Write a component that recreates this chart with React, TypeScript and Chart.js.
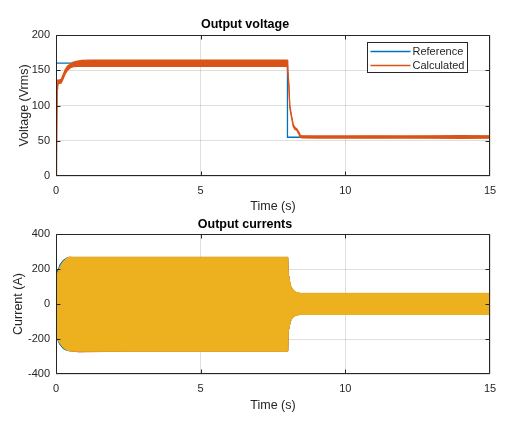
import React, { useEffect, useRef } from "react";
import { Chart, registerables } from "chart.js";

Chart.register(...registerables);

// ---------- data ----------
const timeTicks = [0, 5, 10, 15];
const voltageTicks = [0, 50, 100, 150, 200];
const currentTicks = [-400, -200, 0, 200, 400];

const refTime = [0, 8, 8, 15];
const refVoltage = [160, 160, 55, 55];

const calcTime = [0, 0.02, 0.04, 0.06, 0.1, 0.18, 0.25, 0.32, 0.4, 0.5, 0.6, 0.75, 0.9, 1.2, 2, 3, 4, 5, 6, 7, 7.99, 8.01, 8.05, 8.08, 8.14, 8.2, 8.26, 8.32, 8.4, 8.44, 8.5, 9, 10, 11, 12, 13, 14, 15];
const calcUpper = [0, 2, 128, 136, 136, 137, 144, 151, 156, 159, 161.5, 163, 164, 164.5, 164.5, 164.5, 164.5, 164.5, 164.5, 164.5, 164.5, 152, 129, 100, 86, 73, 69, 67, 62, 58, 57, 56.8, 56.8, 57, 56.8, 57, 57.2, 57];
const calcLower = [0, 0, 124, 131, 131, 132, 138, 145, 150, 153.5, 155, 155.5, 155.5, 155.5, 155.5, 155.5, 155.5, 155.5, 155.5, 155.5, 155.5, 148, 126, 97, 83, 70, 66, 65, 59, 55, 54, 53.8, 53.8, 53.6, 53.8, 53.6, 53.5, 53.8];

const curTime = [0, 0.02, 0.08, 0.14, 0.25, 0.37, 0.45, 0.6, 0.8, 1, 2, 3, 4, 5, 6, 7, 8.01, 8.03, 8.05, 8.1, 8.16, 8.22, 8.33, 8.45, 8.6, 9, 10, 11, 12, 13, 14, 15];
const phaseAUpper = [155, 178, 200, 226, 250, 263, 266, 266, 266, 266, 266, 266, 266, 266, 266, 266, 266, 158, 148, 107, 88, 74, 63, 60, 60, 60, 60, 60, 60, 60, 60, 60];
const phaseALower = [-155, -185, -214, -234, -255, -265, -267, -268, -269, -269, -269, -269, -269, -269, -269, -269, -269, -143, -137, -99, -80, -70, -62, -59, -59, -59, -59, -59, -59, -59, -59, -59];
const phaseBUpper = [150, 165, 184, 212, 241, 260, 268, 266, 266, 266, 266, 266, 266, 266, 266, 266, 266, 158, 148, 107, 88, 74, 63, 60, 60, 60, 60, 60, 60, 60, 60, 60];
const phaseBLower = [-150, -176, -205, -224, -247, -262, -267, -270, -274, -273, -271, -270, -269, -269, -269, -269, -269, -143, -137, -99, -80, -70, -62, -59, -59, -59, -59, -59, -59, -59, -59, -59];
const phaseCUpper = [155, 166, 185, 213, 242, 261, 267, 267, 267, 267, 267, 267, 267, 267, 267, 267, 267, 160, 150, 109, 90, 76, 65, 61, 61, 61, 61, 61, 61, 61, 61, 61];
const phaseCLower = [-155, -177, -206, -225, -248, -263, -267, -269, -270, -270, -270, -270, -270, -270, -270, -270, -270, -145, -139, -101, -82, -72, -63, -60, -60, -60, -60, -60, -60, -60, -60, -60];

// ---------- styling ----------
const FONT = "'Liberation Sans', Arial, Helvetica, sans-serif";
const AXIS = "#262626";
const GRID = "rgba(38,38,38,0.15)";
const BLUE = "#0072BD";
const ORANGE = "#D95319";
const YELLOW = "#EDB120";

function pts(xs: number[], ys: number[]) {
  return xs.map((x, i) => ({ x, y: ys[i] }));
}

const framePlugin = {
  id: "matlabFrame",
  afterDatasetsDraw(chart: any) {
    const { ctx, chartArea } = chart;
    const { left, right, top, bottom } = chartArea;
    const xs = chart.scales.x;
    const ys = chart.scales.y;
    const L = left + 0.5, R = right - 0.5, T = top + 0.5, B = bottom - 0.5;
    const tl = 4;
    ctx.save();
    ctx.strokeStyle = AXIS;
    ctx.lineWidth = 1;
    ctx.beginPath();
    ctx.rect(L, T, R - L, B - T);
    xs.ticks.forEach((t: any) => {
      let p = Math.round(xs.getPixelForValue(t.value)) + 0.5;
      p = Math.min(Math.max(p, L), R);
      ctx.moveTo(p, B); ctx.lineTo(p, B - tl);
      ctx.moveTo(p, T); ctx.lineTo(p, T + tl);
    });
    ys.ticks.forEach((t: any) => {
      let p = Math.round(ys.getPixelForValue(t.value)) + 0.5;
      p = Math.min(Math.max(p, T), B);
      ctx.moveTo(L, p); ctx.lineTo(L + tl, p);
      ctx.moveTo(R, p); ctx.lineTo(R - tl, p);
    });
    ctx.stroke();
    ctx.restore();
  },
};

const legendBoxPlugin = {
  id: "legendBox",
  afterDraw(chart: any, _args: any, opts: any) {
    if (!opts || !opts.items) return;
    const { ctx, chartArea } = chart;
    const w = 100, h = 30;
    const x0 = Math.round(chartArea.right - 23 - w) + 0.5;
    const y0 = Math.round(chartArea.top + 7) + 0.5;
    ctx.save();
    ctx.fillStyle = "#ffffff";
    ctx.fillRect(x0, y0, w, h);
    ctx.strokeStyle = AXIS;
    ctx.lineWidth = 1;
    ctx.strokeRect(x0, y0, w, h);
    ctx.font = `11px ${FONT}`;
    ctx.textBaseline = "middle";
    ctx.textAlign = "left";
    opts.items.forEach((it: any, i: number) => {
      const y = y0 + 9 + i * 14;
      ctx.strokeStyle = it.color;
      ctx.lineWidth = 1.3;
      ctx.beginPath();
      ctx.moveTo(x0 + 3, y);
      ctx.lineTo(x0 + 43, y);
      ctx.stroke();
      ctx.fillStyle = AXIS;
      ctx.fillText(it.label, x0 + 45, y);
    });
    ctx.restore();
  },
};

function makeOptions(p: {
  title: string;
  titlePad: { top: number; bottom: number };
  yTitle: string;
  yTitlePadTop: number;
  yMin: number; yMax: number; yStep: number;
  xAxisHeight: number;
  xTitlePadBottom: number;
  legendItems?: any[];
}) {
  return {
    responsive: false,
    maintainAspectRatio: false,
    animation: false,
    devicePixelRatio: 1,
    events: [],
    layout: { padding: { left: 0, right: 30, top: 0, bottom: 0 } },
    elements: { point: { radius: 0 }, line: { tension: 0 } },
    plugins: {
      legend: { display: false },
      tooltip: { enabled: false },
      title: {
        display: true,
        text: p.title,
        color: "#000000",
        font: { family: FONT, size: 12.5, weight: "bold", lineHeight: 1.2 },
        padding: p.titlePad,
      },
      legendBox: p.legendItems ? { items: p.legendItems } : {},
    },
    scales: {
      x: {
        type: "linear",
        min: 0,
        max: 15,
        afterBuildTicks: (s: any) => { s.ticks = timeTicks.map((v) => ({ value: v })); },
        ticks: { font: { family: FONT, size: 11 }, color: AXIS, padding: 8, maxRotation: 0 },
        grid: { color: GRID, drawTicks: false },
        border: { display: false },
        title: {
          display: true,
          text: "Time (s)",
          color: AXIS,
          font: { family: FONT, size: 12.5, lineHeight: 1.2 },
          padding: { top: 0, bottom: p.xTitlePadBottom },
        },
        afterFit: (s: any) => { s.height = p.xAxisHeight; },
      },
      y: {
        type: "linear",
        min: p.yMin,
        max: p.yMax,
        ticks: { stepSize: p.yStep, font: { family: FONT, size: 11 }, color: AXIS, padding: 6 },
        grid: { color: GRID, drawTicks: false },
        border: { display: false },
        title: {
          display: true,
          text: p.yTitle,
          color: AXIS,
          font: { family: FONT, size: 12.5, lineHeight: 1.2 },
          padding: { top: p.yTitlePadTop, bottom: 0 },
        },
        afterFit: (s: any) => { s.width = 56; },
      },
    },
  };
}

function voltageConfig(): any {
  return {
    type: "line",
    data: {
      datasets: [
        { label: "Reference", data: pts(refTime, refVoltage), borderColor: BLUE, borderWidth: 1.3, fill: false, order: 3 },
        { label: "Calculated upper", data: pts(calcTime, calcUpper), borderColor: ORANGE, backgroundColor: ORANGE, borderWidth: 1.2, fill: "+1", order: 1 },
        { label: "Calculated lower", data: pts(calcTime, calcLower), borderColor: ORANGE, borderWidth: 1.2, fill: false, order: 2 },
      ],
    },
    options: makeOptions({
      title: "Output voltage",
      titlePad: { top: 17.5, bottom: 2.5 },
      yTitle: "Voltage (Vrms)",
      yTitlePadTop: 17,
      yMin: voltageTicks[0], yMax: voltageTicks[voltageTicks.length - 1], yStep: 50,
      xAxisHeight: 38,
      xTitlePadBottom: 0,
      legendItems: [
        { label: "Reference", color: BLUE },
        { label: "Calculated", color: ORANGE },
      ],
    }),
    plugins: [framePlugin, legendBoxPlugin],
  };
}

function currentConfig(): any {
  const band = (up: number[], lo: number[], color: string, order: number, name: string) => [
    { label: name + " upper", data: pts(curTime, up), borderColor: color, backgroundColor: color, borderWidth: 1, fill: "+1", order },
    { label: name + " lower", data: pts(curTime, lo), borderColor: color, borderWidth: 1, fill: false, order },
  ];
  return {
    type: "line",
    data: {
      datasets: [
        ...band(phaseAUpper, phaseALower, BLUE, 3, "Phase A"),
        ...band(phaseBUpper, phaseBLower, ORANGE, 2, "Phase B"),
        ...band(phaseCUpper, phaseCLower, YELLOW, 1, "Phase C"),
      ],
    },
    options: makeOptions({
      title: "Output currents",
      titlePad: { top: 3.5, bottom: 1.5 },
      yTitle: "Current (A)",
      yTitlePadTop: 11,
      yMin: currentTicks[0], yMax: currentTicks[currentTicks.length - 1], yStep: 200,
      xAxisHeight: 47,
      xTitlePadBottom: 8,
    }),
    plugins: [framePlugin],
  };
}

function ChartCanvas({ make, top, height }: { make: () => any; top: number; height: number }) {
  const ref = useRef<HTMLCanvasElement | null>(null);
  useEffect(() => {
    if (!ref.current) return;
    const chart = new Chart(ref.current, make());
    return () => chart.destroy();
  }, []);
  return (
    <canvas
      ref={ref}
      width={520}
      height={height}
      style={{ position: "absolute", left: 0, top, width: 520, height, display: "block" }}
    />
  );
}

export default function App() {
  return (
    <div style={{ position: "absolute", left: 0, top: 0, width: 520, height: 421, background: "#ffffff" }}>
      <ChartCanvas make={voltageConfig} top={0} height={214} />
      <ChartCanvas make={currentConfig} top={214} height={207} />
    </div>
  );
}
